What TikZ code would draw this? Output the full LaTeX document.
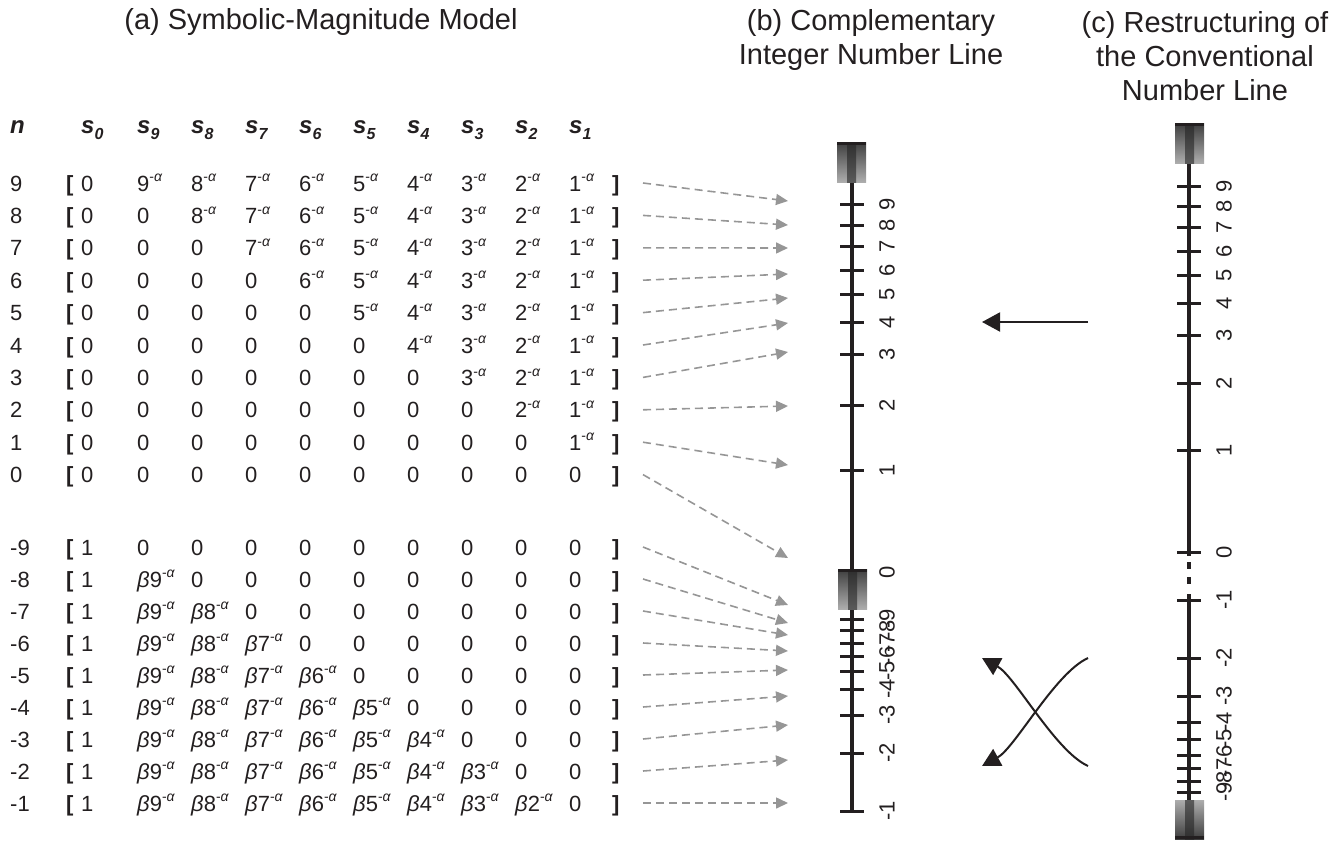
\documentclass[tikz,border=0pt]{standalone}
\usepackage{fontspec}
\setmainfont{Liberation Sans}
\usetikzlibrary{arrows.meta}

\definecolor{inkblack}{HTML}{231F20}
\definecolor{dashgray}{HTML}{969696}
\definecolor{boxdark}{HTML}{3E3E3E}
\definecolor{boxlight}{HTML}{ADADAD}
\definecolor{stripedark}{HTML}{2E2E2E}
\definecolor{stripelight}{HTML}{5A5A5A}

% superscript "-alpha" and header subscripts
\newcommand\negal{\raisebox{0.42em}{\fontsize{14}{14}\selectfont -\textit{α}}}
\newcommand\hsub[1]{\raisebox{-0.28em}{\fontsize{16}{16}\selectfont #1}}

% shaded end blocks of a number line: x centre, top, bottom
\newcommand\capblockdown[3]{%
  \shade[top color=boxdark, bottom color=boxlight] (#1-14.5,#2) rectangle (#1+14.5,#3);
  \shade[top color=stripedark, bottom color=stripelight] (#1-4.5,#2) rectangle (#1+4.5,#3);
  \fill[inkblack] (#1-14.5,#2) rectangle (#1+14.5,#2+3);
}
\newcommand\capblockup[3]{%
  \shade[top color=boxlight, bottom color=boxdark] (#1-14.5,#2) rectangle (#1+14.5,#3);
  \shade[top color=stripelight, bottom color=stripedark] (#1-4.5,#2) rectangle (#1+4.5,#3);
  \fill[inkblack] (#1-14.5,#3-3) rectangle (#1+14.5,#3);
}

\begin{document}
\begin{tikzpicture}[x=1pt,y=-1pt,
  title/.style={font=\fontsize{29}{34}\selectfont, align=center, inner sep=0pt, text=inkblack},
  cell/.style={anchor=base west, inner sep=0pt, font=\fontsize{22}{26}\selectfont, text=inkblack},
  brk/.style={cell, font=\fontsize{22}{26}\selectfont\bfseries},
  head/.style={cell, font=\fontsize{24}{28}\selectfont\bfseries\itshape},
  numlbl/.style={rotate=90, inner sep=0pt, font=\fontsize{22}{26}\selectfont, text=inkblack},
  numline/.style={line width=3.2pt, draw=inkblack},
  tickmark/.style={line width=3pt, draw=inkblack},
  maparrow/.style={draw=dashgray, line width=1.6pt, dash pattern=on 8pt off 5pt,
    -{Triangle[length=12pt,width=11pt]}},
  movearrow/.style={draw=inkblack, line width=2pt, -{Triangle[length=18pt,width=19pt]}},
]
\useasboundingbox (0,0) rectangle (1333,841);

% titles
\node[title] (ta) at (321,22) {(a) Symbolic-Magnitude Model};
\node[title] (tb) at (871,39.5) {(b) Complementary\\Integer Number Line};
\node[title] (tc) at (1205,56) {(c) Restructuring of\\the Conventional\\Number Line};

% column heads
\node[head] (hn) at (10,133) {n};
\node[head] (hs0) at (81,133) {s\hsub{0}};
\foreach \j in {9,...,1} {
  \pgfmathsetmacro\xx{137+(9-\j)*54}
  \node[head] (hs\j) at (\xx,133) {s\hsub{\j}};
}

% rows for n = 9 ... 0
\foreach \n in {9,8,...,0} {
  \pgfmathsetmacro\yb{183+(9-\n)*32.4+8}
  \node[cell] (p\n-lab) at (10,\yb) {\n};
  \node[brk] (p\n-l) at (66,\yb) {[};
  \node[cell] (p\n-s0) at (81,\yb) {0};
  \foreach \j in {9,...,1} {
    \pgfmathsetmacro\xx{137+(9-\j)*54}
    \node[cell] (p\n-s\j) at (\xx,\yb) {\ifnum\j>\n\relax 0\else\j\negal\fi};
  }
  \node[brk] (p\n-r) at (612,\yb) {]};
}

% rows for n = -9 ... -1
\foreach \m in {9,...,1} {
  \pgfmathsetmacro\yb{547+(9-\m)*32+8}
  \node[cell] (n\m-lab) at (10,\yb) {-\m};
  \node[brk] (n\m-l) at (66,\yb) {[};
  \node[cell] (n\m-s0) at (81,\yb) {1};
  \foreach \j in {9,...,1} {
    \pgfmathsetmacro\xx{137+(9-\j)*54}
    \node[cell] (n\m-s\j) at (\xx,\yb) {\ifnum\j>\m\relax\textit{β}\j\negal\else 0\fi};
  }
  \node[brk] (n\m-r) at (612,\yb) {]};
}

% (b) complementary integer number line
\draw[numline] (852,182) -- (852,811);
\foreach \v/\y in {9/204,8/225,7/246,6/270,5/294,4/322,3/354,2/405,1/470,
                   -9/619,-8/630,-7/643,-6/656,-5/671,-4/689,-3/715,-2/753,-1/811}
  \draw[tickmark] (840,\y) -- (864,\y);
\capblockdown{851.5}{142}{182}
\capblockdown{852.5}{569}{609}
\foreach \v/\y in {9/204,8/225,7/246,6/270,5/294,4/322,3/354,2/405,1/470,0/572,
                   -9/619,-8/630,-7/643,-6/656,-5/671,-4/689,-3/715,-2/753,-1/811}
  \node[numlbl] (bl\v) at (887,\y) {\v};

% (c) conventional number line, restructured
\draw[numline] (1189,163) -- (1189,556);
\draw[numline, dash pattern=on 7pt off 8pt] (1189,562) -- (1189,590);
\draw[numline] (1189,594) -- (1189,800);
\foreach \v/\y in {9/186,8/206,7/227,6/251,5/275,4/303,3/335,2/383,1/450,0/552,
                   -1/600,-2/658,-3/696,-4/722,-5/739,-6/755,-7/768,-8/781,-9/792}
  \draw[tickmark] (1177,\y) -- (1201,\y);
\capblockdown{1189.5}{123}{163}
\capblockup{1189.5}{800}{839}
\foreach \v/\y in {9/186,8/206,7/227,6/251,5/275,4/303,3/335,2/383,1/450,0/552,
                   -1/600,-2/658,-3/696,-4/722,-5/739,-6/755,-7/768,-8/781,-9/792}
  \node[numlbl] (cl\v) at (1224,\y) {\v};

% mapping arrows from the rows to line (b)
\foreach \n/\ye in {9/201,8/225,7/248,6/274,5/298,4/323,3/352,2/406,1/465,0/558} {
  \pgfmathsetmacro\ys{183+(9-\n)*32.4}
  \coordinate (ps\n) at (643,\ys);
  \coordinate (pe\n) at (788,\ye);
  \draw[maparrow] (ps\n) -- (pe\n);
}
\foreach \m/\ye in {9/605,8/623,7/635,6/651,5/670,4/696,3/725,2/760,1/803} {
  \pgfmathsetmacro\ys{547+(9-\m)*32}
  \coordinate (ns\m) at (643,\ys);
  \coordinate (ne\m) at (788,\ye);
  \draw[maparrow] (ns\m) -- (ne\m);
}

% restructuring moves between (c) and (b)
\coordinate (mvs) at (1088,322);
\coordinate (mve) at (982,322);
\draw[movearrow] (mvs) -- (mve);
\coordinate (xa1) at (1088,658);
\coordinate (xa2) at (982,766);
\draw[movearrow] (xa1) .. controls (1055,673) and (1015,748) .. (xa2);
\coordinate (xb1) at (1088,766);
\coordinate (xb2) at (982,658);
\draw[movearrow] (xb1) .. controls (1055,751) and (1015,676) .. (xb2);
\end{tikzpicture}
\end{document}
